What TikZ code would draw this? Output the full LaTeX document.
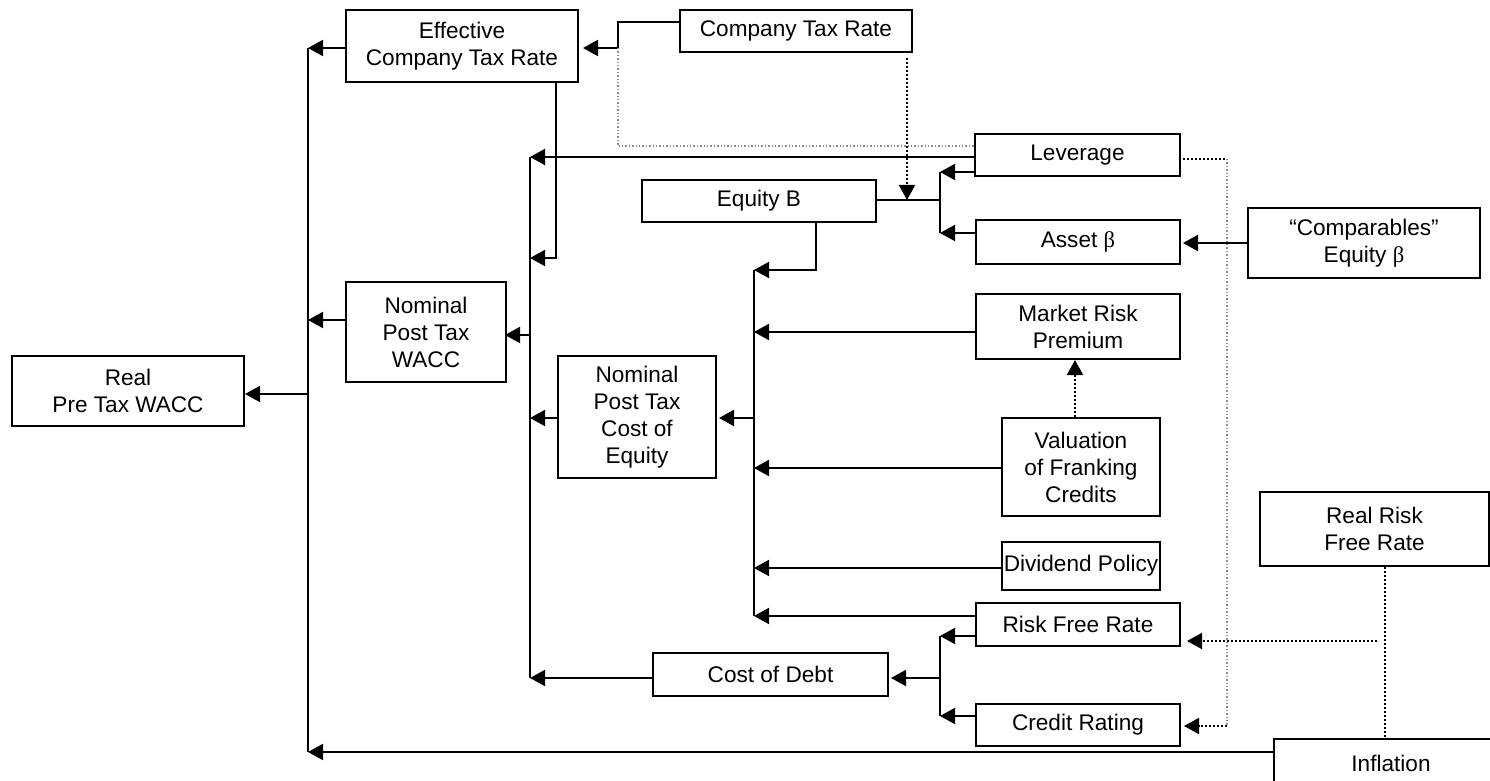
\documentclass[tikz,border=0pt]{standalone}
\usepackage{fontspec}
\setmainfont{Liberation Sans}
\newfontfamily\grk{Liberation Serif}
\usetikzlibrary{arrows.meta}
\newcommand\bx[6]{%
  \pgfmathsetmacro\bw{(#4-#2)*0.5}\pgfmathsetmacro\bh{(#5-#3)*0.5}%
  \node[box,minimum width=\bw pt,minimum height=\bh pt] (#1) at ({(#2+#4)/2},{(#3+#5)/2}) {#6};}
\begin{document}
\begin{tikzpicture}[x=0.5pt,y=-0.5pt,
  box/.style={draw,line width=1pt,inner sep=0pt,align=center,font=\fontsize{11.3}{13.5}\selectfont},
  conn/.style={line width=1pt,-{Triangle[length=7.5pt,width=8pt]}},
  plain/.style={line width=1pt},
  dotarr/.style={line width=1pt,densely dotted,-{Triangle[length=7.5pt,width=8pt]}},
  dotline/.style={line width=1pt,densely dotted},
  grayline/.style={line width=0.7pt,densely dotted,black!45}]
\useasboundingbox (0,0) rectangle (1490,781);
\clip (0,0) rectangle (1490,781);
\fill[white] (0,0) rectangle (1490,781);

% boxes
\bx{eff}{346}{10}{578}{82}{Effective\\Company Tax Rate}
\bx{ctr}{680}{10}{912}{52}{Company Tax Rate}
\bx{lev}{975}{134}{1180}{176}{Leverage}
\bx{eqb}{642}{180}{876}{222}{Equity B}
\bx{asset}{976}{220}{1180}{264}{Asset {\grk β}}
\bx{comp}{1248}{208}{1480}{278}{“Comparables”\\Equity {\grk β}}
\bx{mrp}{976}{294}{1180}{359}{Market Risk\\Premium}
\bx{npw}{346}{282}{506}{382}{Nominal\\Post Tax\\WACC}
\bx{rptw}{12}{356}{244}{426}{Real\\Pre Tax WACC}
\bx{coe}{558}{356}{716}{478}{Nominal\\Post Tax\\Cost of\\Equity}
\bx{vfc}{1002}{418}{1160}{516}{Valuation\\of Franking\\Credits}
\bx{rrfr}{1260}{492}{1489}{566}{Real Risk\\Free Rate}
\bx{div}{1002}{542}{1160}{590}{Dividend Policy}
\bx{rfr}{976}{603}{1180}{646}{Risk Free Rate}
\bx{cod}{653}{653}{888}{696}{Cost of Debt}
\bx{cr}{976}{704}{1180}{746}{Credit Rating}
\bx{inf}{1274}{739}{1508}{787}{Inflation}

% junction coordinates
\coordinate (m1) at (308,48);
\coordinate (m2) at (308,320);
\coordinate (m3) at (308,394);
\coordinate (m4) at (308,752);
\coordinate (b1) at (530,157);
\coordinate (b2) at (530,258);
\coordinate (b3) at (530,335);
\coordinate (b4) at (530,418);
\coordinate (b5) at (530,678);
\coordinate (e1) at (556,258);
\coordinate (c0) at (816,270);
\coordinate (c1) at (754,270);
\coordinate (c2) at (754,332);
\coordinate (c3) at (754,418);
\coordinate (c4) at (754,468);
\coordinate (c5) at (754,568);
\coordinate (c6) at (754,616);
\coordinate (d1) at (940,172);
\coordinate (d2) at (940,200);
\coordinate (d3) at (940,233);
\coordinate (f1) at (940,636);
\coordinate (f2) at (940,678);
\coordinate (f3) at (940,716);
\coordinate (j1) at (618,22);
\coordinate (j2) at (618,48);
\coordinate (k1) at (618,146);
\coordinate (q1) at (907,200);
\coordinate (g1) at (1385,641);
\coordinate (h1) at (1227,159);
\coordinate (h2) at (1227,726);

% buses
\draw[plain] (m1) -- (m4);
\draw[plain] (b1) -- (b5);
\draw[plain] (c1) -- (c6);
\draw[plain] (d1) -- (d3);
\draw[plain] (f1) -- (f3);

% main bus
\draw[conn] (eff.west|-m1) -- (m1);
\draw[conn] (npw.west|-m2) -- (m2);
\draw[conn] (m3) -- (rptw.east|-m3);
\draw[conn] (inf.west|-m4) -- (m4);

% bus b
\draw[conn] (lev.west|-b1) -- (b1);
\draw[conn] (eff.south-|e1) -- (e1) -- (b2);
\draw[conn] (b3) -- ([xshift=-1pt]npw.east|-b3);
\draw[conn] (coe.west|-b4) -- (b4);
\draw[conn] (cod.west|-b5) -- (b5);

% bus c
\draw[conn] (eqb.south-|c0) -- (c0) -- (c1);
\draw[conn] (mrp.west|-c2) -- (c2);
\draw[conn] (c3) -- ([xshift=1pt]coe.east|-c3);
\draw[conn] (vfc.west|-c4) -- (c4);
\draw[conn] (div.west|-c5) -- (c5);
\draw[conn] (rfr.west|-c6) -- (c6);

% bus d
\draw[conn] (lev.west|-d1) -- (d1);
\draw[conn] (asset.west|-d3) -- (d3);
\draw[plain] (d2) -- (eqb.east|-d2);
\draw[conn] (comp.west) -- ([xshift=1pt]asset.east|-comp.west);

% bus f
\draw[conn] (rfr.west|-f1) -- (f1);
\draw[conn] (cr.west|-f3) -- (f3);
\draw[conn] (f2) -- ([xshift=1pt]cod.east|-f2);

% company tax rate to effective
\draw[conn] (ctr.west|-j1) -- (j1) -- (j2) -- ([xshift=2pt]eff.east|-j2);

% dotted influences
\draw[grayline] (j2) -- (k1) -- (lev.west|-k1);
\draw[dotarr] ([yshift=-2.5pt]ctr.south-|q1) -- (q1);
\draw[dotarr] (vfc.north-|1075,0) -- (mrp.south-|1075,0);
\draw[dotline] (rrfr.south-|g1) -- (inf.north-|g1);
\draw[dotarr] ([xshift=-4pt]g1) -- ([xshift=3pt]rfr.east|-g1);
\draw[grayline] (h1) -- (h2);
\draw[dotline,line width=0.8pt] ([xshift=1pt]lev.east|-h1) -- (h1);
\draw[dotarr,line width=0.8pt] (h2) -- ([xshift=1.5pt]cr.east|-h2);
\end{tikzpicture}
\end{document}
